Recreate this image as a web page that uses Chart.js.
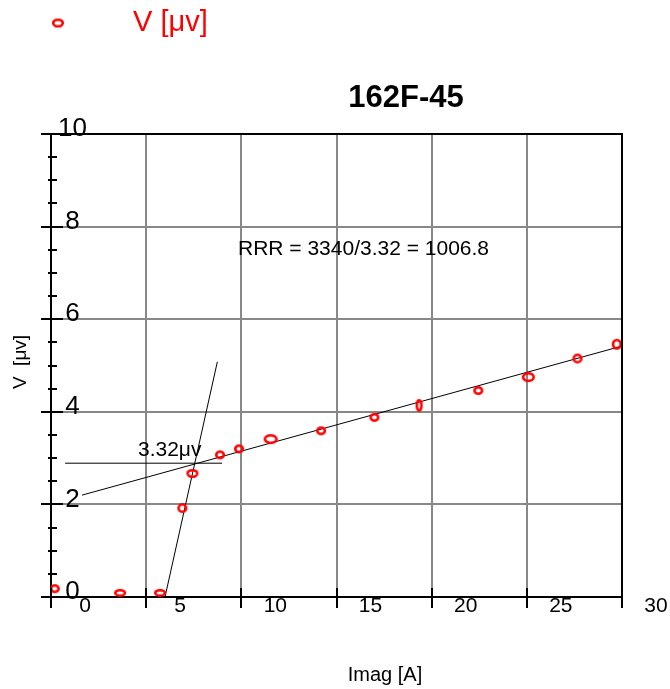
<!DOCTYPE html>
<html><head><meta charset="utf-8">
<script src="https://cdn.jsdelivr.net/npm/chart.js@4/dist/chart.umd.min.js"></script>
<style>html,body{margin:0;padding:0;background:#fff}canvas{display:block}</style>
</head><body>
<canvas id="c" width="670" height="689"></canvas>
<script>
// ---- data ----
const chartTitle = '162F-45';
const seriesName = 'V [\u03bcv]';
const xAxisTitle = 'Imag [A]';
const yAxisTitle = 'V  [\u03bcv]';
const xTickValues = [0, 5, 10, 15, 20, 25, 30];
const yTickValues = [0, 2, 4, 6, 8, 10];
const vImag   = [0.20, 3.63, 5.73, 6.90, 7.43, 8.88, 9.88, 11.54, 14.19, 16.99, 19.34, 22.45, 25.08, 27.66, 29.73];
const vValues = [0.18, 0.09, 0.09, 1.92, 2.67, 3.07, 3.20, 3.41, 3.59, 3.88, 4.14, 4.46, 4.75, 5.15, 5.46];
const fitHighX = [1.63, 30];
const fitHighY = [2.20, 5.42];
const fitLowX = [5.99, 8.74];
const fitLowY = [0, 5.08];
const residualX = [0.74, 8.99];
const residualY = [2.89, 2.89];
const rrrText = 'RRR = 3340/3.32 = 1006.8';
const residualText = '3.32\u03bcv';

// ---- marker shapes (style only) ----
const markerW = [10, 12, 12, 10, 12, 10, 10, 14, 10, 10, 7, 10, 13, 10, 10];
const markerH = [9, 8, 8, 10, 9, 9, 9, 10, 9, 9, 13, 9, 10, 10, 11];
const RED = '#ff0000';
const FONT = "'Liberation Sans', Arial, Helvetica, sans-serif";

function ellipseImage(w, h) {
  const c = document.createElement('canvas');
  c.width = w + 2; c.height = h + 2;
  const g = c.getContext('2d');
  g.strokeStyle = RED; g.lineWidth = 2.6;
  g.beginPath();
  g.ellipse(c.width / 2, c.height / 2, w / 2 - 1.2, h / 2 - 1.2, 0, 0, Math.PI * 2);
  g.stroke();
  return c;
}
const markerImgs = markerW.map((w, i) => ellipseImage(w, markerH[i]));
const legendImg = ellipseImage(12, 9);

const pairs = (xs, ys) => xs.map((x, i) => ({x, y: ys[i]}));

Chart.defaults.font.family = FONT;
Chart.defaults.color = '#000';

const decor = {
  id: 'decor',
  beforeDatasetsDraw(chart) {
    const ctx = chart.ctx;
    ctx.save();
    ctx.fillStyle = '#000';
    ctx.font = '21px ' + FONT;
    ctx.textBaseline = 'middle';
    ctx.textAlign = 'left';
    ctx.fillText(rrrText, 238, 249);
    ctx.fillText(residualText, 138, 450);
    ctx.restore();
  },
  afterDraw(chart) {
    const ctx = chart.ctx;
    const a = chart.chartArea;
    const xs = chart.scales.x, ys = chart.scales.y;
    ctx.save();
    ctx.strokeStyle = '#000';
    ctx.lineWidth = 2;
    // top & right frame
    ctx.beginPath();
    ctx.moveTo(a.left, a.top); ctx.lineTo(a.right, a.top); ctx.lineTo(a.right, a.bottom);
    ctx.stroke();
    // y major ticks (crossing)
    ctx.beginPath();
    yTickValues.forEach(v => {
      const p = Math.round(ys.getPixelForValue(v));
      ctx.moveTo(a.left - 10, p); ctx.lineTo(a.left + 12, p);
    });
    // y minor ticks
    for (let v = 0.5; v < 10; v += 0.5) {
      if (Math.abs(v / 2 - Math.round(v / 2)) < 1e-6) continue;
      const p = Math.round(ys.getPixelForValue(v));
      ctx.moveTo(a.left - 3, p); ctx.lineTo(a.left + 6, p);
    }
    // x major ticks (crossing)
    xTickValues.forEach(v => {
      const p = Math.round(xs.getPixelForValue(v));
      ctx.moveTo(p, a.bottom - 9); ctx.lineTo(p, a.bottom + 11);
    });
    ctx.stroke();

    // title
    ctx.fillStyle = '#000';
    ctx.textAlign = 'center';
    ctx.textBaseline = 'middle';
    ctx.font = 'bold 31px ' + FONT;
    ctx.fillText(chartTitle, 406, 98);
    // x axis title
    ctx.font = '20px ' + FONT;
    ctx.fillText(xAxisTitle, 385, 675);
    // y axis title
    ctx.save();
    ctx.translate(21, 362);
    ctx.rotate(-Math.PI / 2);
    ctx.font = '19px ' + FONT;
    ctx.fillText(yAxisTitle, 0, 0);
    ctx.restore();
    // legend
    ctx.drawImage(legendImg, 58 - legendImg.width / 2, 23 - legendImg.height / 2);
    ctx.fillStyle = RED;
    ctx.textAlign = 'left';
    ctx.font = '29px ' + FONT;
    ctx.fillText(seriesName, 133, 23);
    ctx.restore();
  }
};

new Chart(document.getElementById('c'), {
  type: 'scatter',
  data: {
    datasets: [
      {
        label: seriesName,
        data: pairs(vImag, vValues),
        pointStyle: ctx => markerImgs[ctx.dataIndex] || markerImgs[0],
        pointRadius: 5,
        pointHoverRadius: 5,
        borderColor: RED,
        backgroundColor: RED,
        clip: 0
      },
      {
        label: 'fit high',
        data: pairs(fitHighX, fitHighY),
        showLine: true, borderColor: '#000', borderWidth: 1, pointRadius: 0, pointHoverRadius: 0, clip: 0
      },
      {
        label: 'fit low',
        data: pairs(fitLowX, fitLowY),
        showLine: true, borderColor: '#000', borderWidth: 1, pointRadius: 0, pointHoverRadius: 0, clip: 0
      },
      {
        label: 'residual',
        data: pairs(residualX, residualY),
        showLine: true, borderColor: '#000', borderWidth: 1, pointRadius: 0, pointHoverRadius: 0, clip: 0
      }
    ]
  },
  options: {
    responsive: false,
    animation: false,
    events: [],
    layout: { padding: { top: 134, right: 48, bottom: 0, left: 0 } },
    plugins: { legend: { display: false }, title: { display: false }, tooltip: { enabled: false } },
    scales: {
      x: {
        type: 'linear', position: 'bottom', min: 0, max: 30,
        afterBuildTicks: s => { s.ticks = xTickValues.map(v => ({value: v})); },
        afterFit: s => { s.height = 92; },
        grid: {
          drawTicks: false, lineWidth: 2,
          color: c => (c.tick && (c.tick.value === 0 || c.tick.value === 30)) ? 'rgba(0,0,0,0)' : '#888888'
        },
        border: { display: true, color: '#000', width: 2 },
        ticks: { autoSkip: false, maxRotation: 0, labelOffset: 34, padding: -3, color: '#000', font: { size: 21 } },
        title: { display: false }
      },
      y: {
        type: 'linear', position: 'left', min: 0, max: 10,
        afterBuildTicks: s => { s.ticks = yTickValues.map(v => ({value: v})); },
        afterFit: s => { s.width = 51; },
        grid: {
          drawTicks: false, lineWidth: 2,
          color: c => (c.tick && (c.tick.value === 0 || c.tick.value === 10)) ? 'rgba(0,0,0,0)' : '#888888'
        },
        border: { display: true, color: '#000', width: 2 },
        ticks: { mirror: true, crossAlign: 'center', padding: 7, labelOffset: -5, color: '#000', font: { size: 26 } },
        title: { display: false }
      }
    }
  },
  plugins: [decor]
});
</script>
</body></html>
